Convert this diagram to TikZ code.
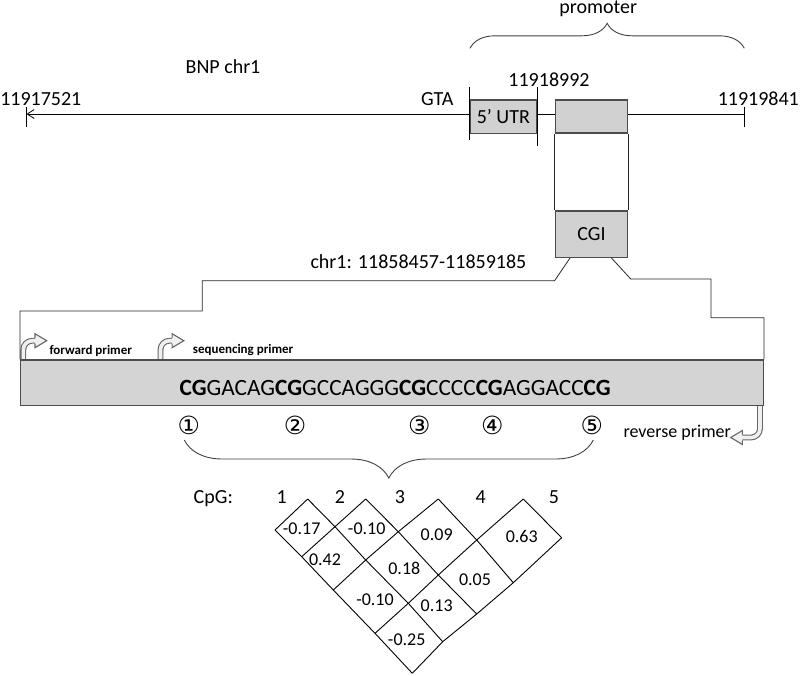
\documentclass[tikz,border=0pt]{standalone}
\usepackage{fontspec}
\setmainfont{Carlito}
\newfontfamily\circfont{DejaVu Sans}
\usetikzlibrary{arrows.meta,calc,decorations.pathreplacing}

\tikzset{
	lbl/.style={font=\fontsize{20}{24}\selectfont, inner sep=0pt},
	val/.style={font=\fontsize{18}{22}\selectfont, inner sep=0pt},
	greybox/.style={draw=black!70, line width=1.3pt, fill=black!18, inner sep=0pt, font=\fontsize{20}{24}\selectfont},
	link/.style={draw=black!85, line width=0.8pt},
	ldline/.style={line width=0.9pt},
	curly/.style={draw=black!75, line width=0.9pt, decorate, decoration={brace, amplitude=#1pt}},
	primer/.style={draw=black!60, line width=1.1pt, double=black!6, double distance=3.6pt, rounded corners=9pt},
	pics/primerhead/.style={code={
		\fill[black!6] (0,-7) -- (11.7,0) -- (0,7) -- cycle;
		\draw[black!60, line width=1.1pt, line join=miter] (0,-2.9) -- (0,-7) -- (11.7,0) -- (0,7) -- (0,2.9);
	}}
}

\begin{document}
\begin{tikzpicture}[x=1pt,y=-1pt]
	\useasboundingbox (0,0) rectangle (800,675);
	% gene with 5' UTR and CGI
	\coordinate (lend) at (26.5,114);
	\coordinate (rend) at (744.3,114);
	\draw[line width=0.8pt,-{Straight Barb[length=7pt,width=9pt]}] (rend) -- (lend);
	\draw[line width=0.8pt] ($(lend)+(0,-7.5)$) -- ($(lend)+(0,13.4)$);
	\draw[line width=0.8pt] ($(rend)+(0,-7.5)$) -- ($(rend)+(0,13.4)$);
	\node[greybox, minimum width=66.7, minimum height=33.3] (utr) at (503.3,116.7) {5’ UTR};
	\draw[line width=0.8pt] ($(utr.north west)+(0,-12.7)$) -- ($(utr.south west)+(0,6)$);
	\draw[line width=0.8pt] ($(utr.north east)+(0,-12.7)$) -- ($(utr.south east)+(0,12.4)$);
	\node[greybox, minimum width=72.5, minimum height=33] (band) at (591.5,116.5) {};
	\node[greybox, minimum width=72.5, minimum height=46.3] (cgi) at (591.5,234.2) {CGI};
	\draw[link] (band.south west) -- (cgi.north west);
	\draw[link] (band.south east) -- (cgi.north east);
	\draw[curly=25] (470,48.3) -- (744.3,48.3);
	\node[lbl, anchor=base] (prom) at (598.3,13.5) {promoter};
	\node[lbl, anchor=base] (bnp) at (223,73) {BNP chr1};
	\node[lbl, anchor=base] (start) at (40.8,105.7) {11917521};
	\node[lbl, anchor=base] (stop) at (758.3,105.7) {11919841};
	\node[lbl, anchor=base] (gta) at (437.2,105.7) {GTA};
	\node[lbl, anchor=base] (utrend) at (549,86.4) {11918992};
	\node[lbl, anchor=base] (cgipos) at (418.4,268) {chr1: 11858457-11859185};

	% primers
	\coordinate (fwd) at (23.3,362);
	\coordinate (sqp) at (160.5,362);
	\coordinate (rev) at (760,404);
	\draw[primer] (fwd) |- (35.5,340.7);
	\pic at (35,340.7) {primerhead};
	\draw[primer] (sqp) |- (172.6,340.7);
	\pic at (172.1,340.7) {primerhead};
	\draw[primer] (rev) |- (741.9,437.5);
	\pic[rotate=180] at (742.4,437.5) {primerhead};
	\node[anchor=base west, inner sep=0pt, font=\bfseries\fontsize{13}{16}\selectfont] (fwdlbl) at (49.3,354) {forward primer};
	\node[anchor=base west, inner sep=0pt, font=\bfseries\fontsize{13}{16}\selectfont] (sqplbl) at (192.7,353.5) {sequencing primer};
	\node[anchor=base west, inner sep=0pt, font=\fontsize{18}{22}\selectfont] (revlbl) at (623.3,437) {reverse primer};

	% amplicon
	\node[greybox, fill=black!17, minimum width=742.6, minimum height=45.7] (seq) at (392,382.9) {};
	\node[anchor=base, inner sep=0pt, font=\fontsize{23.3}{28}\selectfont] (seqtext) at (395.2,395.5)
		{\textbf{CG}GACAG\textbf{CG}GCCAGGG\textbf{CG}CCCC\textbf{CG}AGGACC\textbf{CG}};
	\draw[link] ($(cgi.south west)+(15.4,0)$) -- (554.6,280.7) -| (202.3,311) -| (seq.north west);
	\draw[link] ($(cgi.south east)+(-16.9,0)$) -- (630.7,279) -| (711,317.7) -| (seq.north east);
	\foreach \n/\x/\c in {1/188.8/①,2/295/②,3/419.4/③,4/492.3/④,5/591.8/⑤}
		\node[font=\circfont\fontsize{25}{28}\selectfont, inner sep=0pt] (cpg\n) at (\x,425) {\c};
	\draw[curly=38] (593.3,440) -- (184.3,440);

	% LD plot
	\node[lbl, anchor=base] (cpglbl) at (213.3,503.7) {CpG:};
	\foreach \n/\x in {1/281.7,2/340,3/400,4/480.7,5/554}
		\node[lbl, anchor=base] (site\n) at (\x,503.7) {\n};
	\coordinate (T1) at (307.7,499);  \coordinate (T2) at (365.7,499);
	\coordinate (T3) at (438.3,499);  \coordinate (T4) at (523.3,499);
	\coordinate (V0) at (275,530);    \coordinate (A12) at (335,526.7);
	\coordinate (A23) at (398.3,531.7); \coordinate (A34) at (476.7,540);
	\coordinate (R) at (561.7,537.7); \coordinate (B1) at (301.7,556.7);
	\coordinate (B2) at (365.7,560);  \coordinate (B3) at (438.3,575);
	\coordinate (B4) at (513.3,582.7); \coordinate (C1) at (333.3,590);
	\coordinate (C2) at (408.3,603.3); \coordinate (C3) at (476.7,614);
	\coordinate (D1) at (375,633.3);  \coordinate (D2) at (442.7,641.7);
	\coordinate (E) at (412.3,673.3);
	\draw[ldline] (V0) -- (B1) -- (C1) -- (D1) -- (E);
	\draw[ldline] (T1) -- (A12) -- (B2) -- (C2) -- (D2);
	\draw[ldline] (T2) -- (A23) -- (B3) -- (C3);
	\draw[ldline] (T3) -- (A34) -- (B4);
	\draw[ldline] (T4) -- (R);
	\draw[ldline] (T1) -- (V0);
	\draw[ldline] (T2) -- (A12) -- (B1);
	\draw[ldline] (T3) -- (A23) -- (B2) -- (C1);
	\draw[ldline] (T4) -- (A34) -- (B3) -- (C2) -- (D1);
	\draw[ldline] (R) -- (B4) -- (C3) -- (D2) -- (E);
	\foreach \v/\x/\y [count=\k] in {-0.17/301.7/528.3, -0.10/366.7/528.3, 0.09/436.7/535, 0.63/521.7/536.7,
		0.42/325/560, 0.18/404.3/568.3, 0.05/475/579.3, -0.10/375/599.3, 0.13/436.7/605.7, -0.25/406.7/640}
		\node[val] (ld\k) at (\x,\y) {\v};
\end{tikzpicture}
\end{document}
